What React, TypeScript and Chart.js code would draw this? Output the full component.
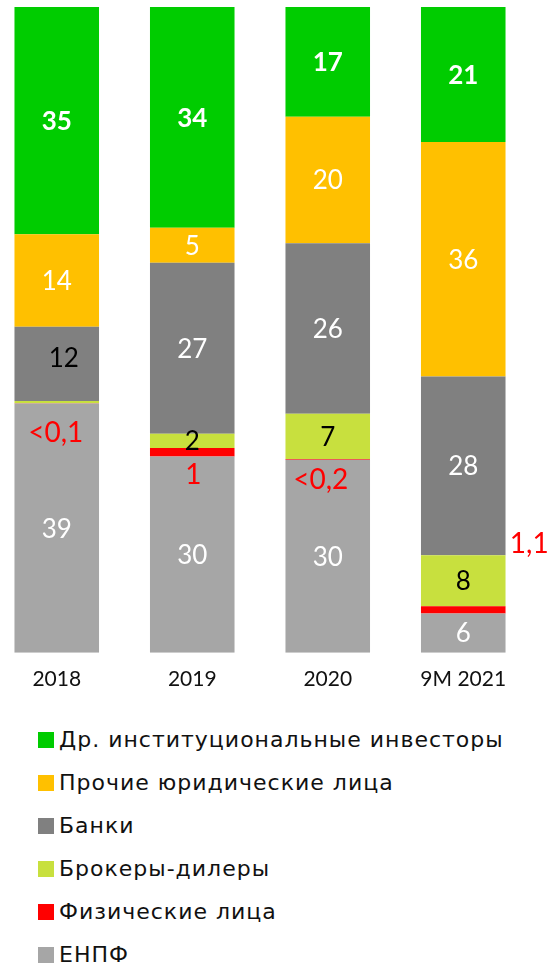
import React, { useEffect, useRef } from 'react';
import { Chart, registerables } from 'chart.js';

Chart.register(...registerables);

// ---- data ----
const categories = ['2018', '2019', '2020', '9M 2021'];

const otherInstitutional = [35.2, 34.2, 17.0, 20.9];
const otherLegal = [14.3, 5.4, 19.6, 36.3];
const banks = [11.5, 26.5, 26.4, 27.7];
const brokers = [0.35, 2.2, 7.0, 7.9];
const individuals = [0.05, 1.3, 0.1, 1.1];
const enpf = [38.6, 30.4, 29.9, 6.1];

const otherInstitutionalLabels = ['35', '34', '17', '21'];
const otherLegalLabels = ['14', '5', '20', '36'];
const banksLabels = ['12', '27', '26', '28'];
const brokersLabels = ['', '2', '7', '8'];
const individualsLabels = ['<0,1', '1', '<0,2', '1,1'];
const enpfLabels = ['39', '30', '30', '6'];

const seriesNames = [
  'Др. институциональные инвесторы',
  'Прочие юридические лица',
  'Банки',
  'Брокеры-дилеры',
  'Физические лица',
  'ЕНПФ',
];

// ---- styles ----
const FONT = 'Lato, "Open Sans", "DejaVu Sans", sans-serif';
const LEGEND_FONT = '"DejaVu Sans", "Open Sans", sans-serif';
const colors = ['#00CC00', '#FFC000', '#808080', '#C8E03E', '#FF0000', '#A6A6A6'];

// dataset order bottom -> top
const series = [
  { name: seriesNames[5], data: enpf, labels: enpfLabels, color: colors[5], text: '#FFFFFF', bold: false },
  { name: seriesNames[4], data: individuals, labels: individualsLabels, color: colors[4], text: '#FF0000', bold: false, outside: true },
  { name: seriesNames[3], data: brokers, labels: brokersLabels, color: colors[3], text: '#000000', bold: false },
  { name: seriesNames[2], data: banks, labels: banksLabels, color: colors[2], text: '#FFFFFF', bold: false },
  { name: seriesNames[1], data: otherLegal, labels: otherLegalLabels, color: colors[1], text: '#FFFFFF', bold: false },
  { name: seriesNames[0], data: otherInstitutional, labels: otherInstitutionalLabels, color: colors[0], text: '#FFFFFF', bold: true },
];

// label placement tweaks (pixels)
const individualsLabelOffsets = [
  { dx: -1, dy: 28 },
  { dx: 1, dy: 17 },
  { dx: -7, dy: 19 },
  { dx: 66, dy: -70 },
];
const banksLabelOverrides = [{ dx: 7, dy: -6, color: '#000000' }, null, null, null];

const LABEL_SIZE = 26;

const labelPlugin = {
  id: 'segmentLabels',
  afterDatasetsDraw(chart: any) {
    const ctx = chart.ctx as CanvasRenderingContext2D;
    ctx.save();
    ctx.textAlign = 'center';
    ctx.textBaseline = 'alphabetic';
    series.forEach((s, di) => {
      const meta = chart.getDatasetMeta(di);
      meta.data.forEach((el: any, i: number) => {
        const text = s.labels[i];
        if (!text) return;
        let x = el.x;
        let y = (el.y + el.base) / 2;
        let color = s.text;
        let size = LABEL_SIZE;
        if (s.outside) {
          const off = individualsLabelOffsets[i];
          x = el.x + off.dx;
          y = el.base + off.dy;
          size = 28;
        }
        if (s === series[3] && banksLabelOverrides[i]) {
          const o = banksLabelOverrides[i] as any;
          x += o.dx;
          y += o.dy;
          color = o.color;
        }
        ctx.font = `${s.bold ? 'bold ' : ''}${size}px ${FONT}`;
        ctx.fillStyle = color;
        ctx.fillText(text, x, y + size * 0.36);
      });
    });
    ctx.restore();
  },
};

function StackedChart() {
  const ref = useRef<HTMLCanvasElement>(null);
  useEffect(() => {
    if (!ref.current) return;
    const chart = new Chart(ref.current, {
      type: 'bar',
      data: {
        labels: categories,
        datasets: series.map((s) => ({
          label: s.name,
          data: s.data,
          backgroundColor: s.color,
          borderWidth: 0,
          barPercentage: 0.624,
          categoryPercentage: 1,
        })),
      },
      options: {
        animation: false,
        responsive: false,
        maintainAspectRatio: false,
        layout: { padding: { top: 7, right: 16, left: 0, bottom: 0 } },
        plugins: {
          legend: { display: false },
          tooltip: { enabled: false },
        },
        scales: {
          x: {
            stacked: true,
            grid: { display: false, drawTicks: false },
            border: { display: false },
            ticks: {
              color: '#111111',
              padding: 14,
              font: { family: FONT, size: 21 },
            },
          },
          y: {
            stacked: true,
            min: 0,
            max: 100,
            display: false,
          },
        },
      },
      plugins: [labelPlugin],
    });
    return () => chart.destroy();
  }, []);
  return <canvas ref={ref} width={558} height={706} style={{ display: 'block', width: 558, height: 706 }} />;
}

function Legend() {
  return (
    <div style={{ position: 'absolute', left: 38, top: 718, fontFamily: LEGEND_FONT, fontSize: 22, letterSpacing: 1, color: '#111111' }}>
      {seriesNames.map((name, k) => (
        <div key={k} style={{ display: 'flex', alignItems: 'center', height: 43 }}>
          <span style={{ display: 'inline-block', width: 16, height: 16, background: colors[k], marginRight: 5, flex: 'none' }} />
          <span style={{ whiteSpace: 'nowrap' }}>{name}</span>
        </div>
      ))}
    </div>
  );
}

export default function App() {
  return (
    <div style={{ position: 'absolute', left: 0, top: 0, width: 547, height: 966, overflow: 'hidden', background: '#FFFFFF' }}>
      <div style={{ position: 'absolute', left: -11, top: 0 }}>
        <StackedChart />
      </div>
      <Legend />
    </div>
  );
}
